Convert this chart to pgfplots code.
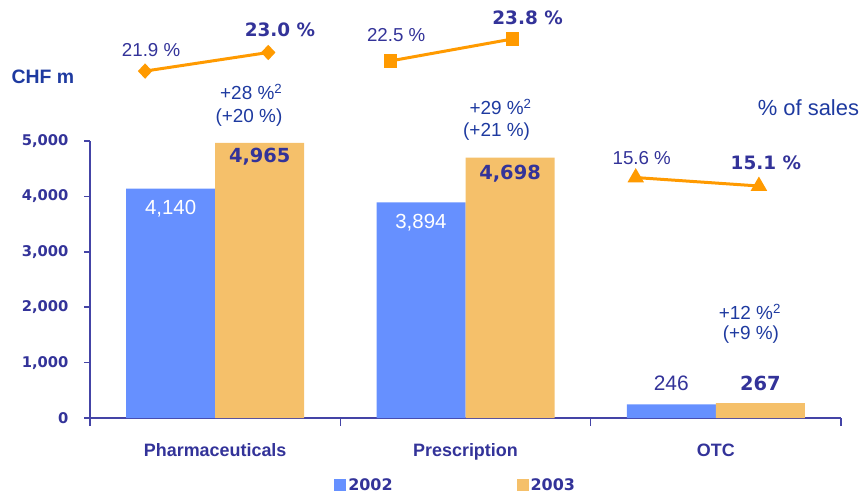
\documentclass[border=0pt]{standalone}
\usepackage{pgfplots}
\pgfplotsset{compat=1.18}
\usepackage{fontspec}
\setmainfont{Liberation Sans}
\newfontfamily\heavy{DejaVu Sans}
\definecolor{barblue}{HTML}{6690FF}
\definecolor{barorange}{HTML}{F5C06A}
\definecolor{lineorange}{HTML}{FF9A00}
\definecolor{indigo}{HTML}{333399}
\definecolor{royal}{HTML}{1E3AA0}
\definecolor{axisc}{HTML}{4444A6}
\newcommand\fs[1]{\fontsize{#1}{#1}\selectfont}
\begin{document}
\begin{tikzpicture}[x=1bp,y=1bp]
\path[use as bounding box] (0,0) rectangle (862,-493);
\begin{axis}[
  at={(90bp,-418bp)}, anchor=south west,
  scale only axis, width=751bp, height=277bp,
  xmin=-0.5, xmax=2.5, ymin=0, ymax=5000,
  axis x line=bottom, axis y line=left,
  axis line style={-, axisc, line width=1.5bp},
  ybar=0pt, bar width=89bp,
  xtick={0,1,2}, xticklabels={Pharmaceuticals,Prescription,OTC},
  minor xtick={-0.5,0.5,1.5,2.5},
  ytick={0,1000,2000,3000,4000,5000},
  tick align=outside,
  major tick length=6bp, minor tick length=8bp,
  tick style={axisc, line width=1.5bp},
  major x tick style={draw=none},
  /pgf/number format/.cd, 1000 sep={,}, assume math mode=true, /pgfplots/.cd,
  yticklabel style={font=\heavy\bfseries\fs{14.8}, text=indigo, xshift=-12bp},
  xticklabel style={font=\bfseries\fs{18}, text=indigo, yshift=-16bp},
  clip=false,
  legend columns=2,
  legend style={at={(0.325,-0.2420)}, anchor=west, draw=none, fill=none,
    inner sep=0pt, font=\heavy\bfseries\fs{16}, text=indigo,
    /tikz/every even column/.append style={column sep=122bp}},
  legend image code/.code={\fill[#1] (0bp,-6bp) rectangle (12bp,6bp);},
]
\addplot[fill=barblue, draw=none] coordinates {(0,4140) (1,3894) (2,246)};
\addplot[fill=barorange, draw=none] coordinates {(0,4965) (1,4698) (2,267)};
\legend{2002,2003}
% bar value labels
\node[font=\fs{20.5}, text=white] at (axis cs:-0.178,3773) {4,140};
\node[font=\heavy\bfseries\fs{19.5}, text=indigo] at (axis cs:0.178,4711) {4,965};
\node[font=\fs{20.5}, text=white] at (axis cs:0.822,3525) {3,894};
\node[font=\heavy\bfseries\fs{19.5}, text=indigo] at (axis cs:1.178,4404) {4,698};
\node[font=\fs{21}, text=indigo] at (axis cs:1.822,632) {246};
\node[font=\heavy\bfseries\fs{19.5}, text=indigo] at (axis cs:2.178,632) {267};
% growth labels
\node[font=\fs{19}, text=royal] at (axis cs:0.144,5884) {+28 \%\textsuperscript{2}};
\node[font=\fs{19}, text=royal] at (axis cs:0.135,5415) {(+20 \%)};
\node[font=\fs{19}, text=royal] at (axis cs:1.14,5619) {+29 \%\textsuperscript{2}};
\node[font=\fs{19}, text=royal] at (axis cs:1.124,5168) {(+21 \%)};
\node[font=\fs{19}, text=royal] at (axis cs:2.136,1919) {+12 \%\textsuperscript{2}};
\node[font=\fs{19}, text=royal] at (axis cs:2.14,1498) {(+9 \%)};
% unit label
\node[font=\bfseries\fs{19.5}, text=royal] at (axis cs:-0.688,6155) {CHF m};
\end{axis}
\begin{axis}[
  at={(90bp,-418bp)}, anchor=south west,
  scale only axis, width=751bp, height=277bp,
  xmin=-0.5, xmax=2.5, ymin=1.373, ymax=17.763,
  hide axis, clip=false,
]
\addplot[lineorange, line width=3bp, mark=diamond*, mark size=5.5bp, mark options={xscale=1.25}]
  coordinates {(-0.28,21.9) (0.212,23.0)};
\addplot[lineorange, line width=3bp, mark=square*, mark size=5.3bp]
  coordinates {(0.70,22.5) (1.188,23.8)};
\addplot[lineorange, line width=3bp, mark=triangle*, mark size=6.5bp]
  coordinates {(1.68,15.6) (2.172,15.1)};
\node[font=\fs{18.8}, text=indigo] at (axis cs:-0.256,23.15) {21.9 \%};
\node[font=\heavy\bfseries\fs{18.5}, text=indigo] at (axis cs:0.259,24.33) {23.0 \%};
\node[font=\fs{18.8}, text=indigo] at (axis cs:0.723,24.04) {22.5 \%};
\node[font=\heavy\bfseries\fs{18.5}, text=indigo] at (axis cs:1.248,25.07) {23.8 \%};
\node[font=\fs{18.8}, text=indigo] at (axis cs:1.704,16.76) {15.6 \%};
\node[font=\heavy\bfseries\fs{18.5}, text=indigo] at (axis cs:2.2,16.46) {15.1 \%};
\node[font=\fs{22}, text=royal] at (axis cs:2.37,19.72) {\% of sales};
\end{axis}
\end{tikzpicture}
\end{document}
